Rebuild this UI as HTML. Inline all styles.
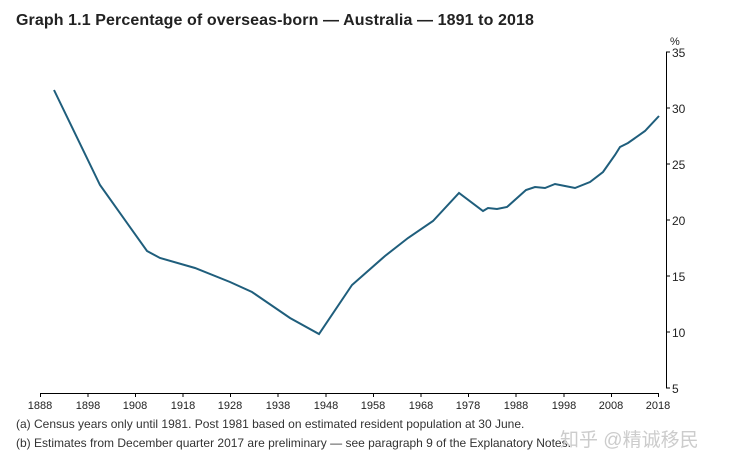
<!DOCTYPE html><html><head><style>body{margin:0;background:#fff}svg{display:block}text{font-family:"Liberation Sans",sans-serif}</style></head><body>
<svg width="730" height="464" xmlns="http://www.w3.org/2000/svg">
<text x="16" y="25" font-size="16" font-weight="bold" fill="#222" letter-spacing="0.1">Graph 1.1 Percentage of overseas-born — Australia — 1891 to 2018</text>
<g stroke="#000" stroke-width="1" fill="none">
<line x1="666.5" y1="52" x2="666.5" y2="388"/>
<line x1="40" y1="393.5" x2="659" y2="393.5"/>
<path d="M666 52h4M666 108h4M666 164h4M666 220h4M666 276h4M666 332h4M666 388h4"/>
<path d="M40.5 393v4M88 393v4M135.5 393v4M183 393v4M230.5 393v4M278 393v4M326 393v4M373.5 393v4M421 393v4M468.5 393v4M516 393v4M564 393v4M611.5 393v4M658.5 393v4"/>
</g>
<g font-size="12" fill="#222">
<text x="670" y="45" font-size="11">%</text>
<text x="672" y="57">35</text><text x="672" y="113">30</text><text x="672" y="169">25</text><text x="672" y="225">20</text><text x="672" y="281">15</text><text x="672" y="337">10</text><text x="672" y="393">5</text>
</g>
<g font-size="11" fill="#222" text-anchor="middle">
<text x="40" y="409">1888</text><text x="88" y="409">1898</text><text x="135" y="409">1908</text><text x="183" y="409">1918</text><text x="230" y="409">1928</text><text x="278" y="409">1938</text><text x="326" y="409">1948</text><text x="373" y="409">1958</text><text x="421" y="409">1968</text><text x="468" y="409">1978</text><text x="516" y="409">1988</text><text x="564" y="409">1998</text><text x="611" y="409">2008</text><text x="658" y="409">2018</text>
</g>
<polyline fill="none" stroke="#1f5e7c" stroke-width="2" points="54,90 100,185 147,251 160,258 195,268 230,282 252,292 290,318 319,334 352,285 385,256 408,238 433,221 459,193 483,211 488,208 497,209 507,207 526,190 535,187 545,188 555,184 565,186 575,188 590,182 603,172 615,155 620,147 628,143 645,131 659,116"/>
<g font-size="12" fill="#333">
<text x="16" y="428">(a) Census years only until 1981. Post 1981 based on estimated resident population at 30 June.</text>
<text x="16" y="447">(b) Estimates from December quarter 2017 are preliminary — see paragraph 9 of the Explanatory Notes.</text>
</g>
<text x="560" y="446" font-size="19" fill="#ccc" font-family="'Liberation Sans','Noto Sans CJK SC',sans-serif">知乎 @精诚移民</text>
</svg></body></html>
